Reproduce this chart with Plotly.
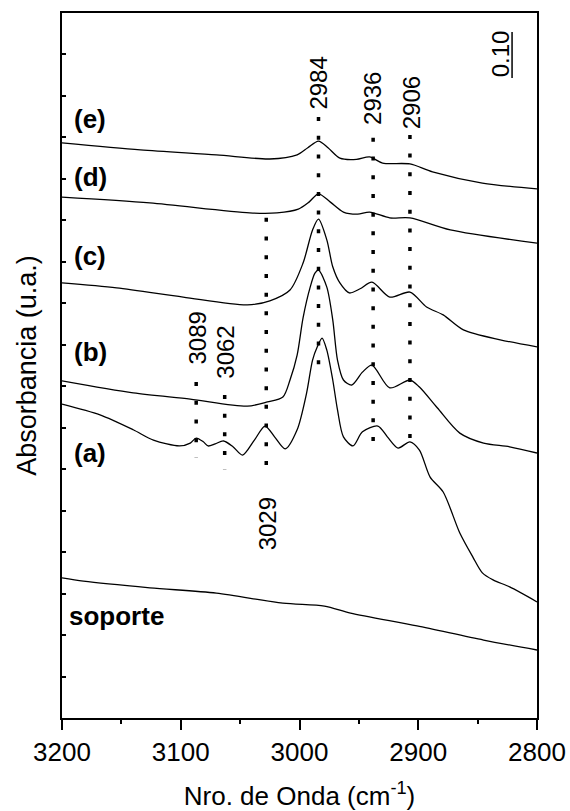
import plotly.graph_objects as go

# --- spectra (wavenumber cm-1, absorbance u.a.) ---
wn_e = [3200, 3134, 3070, 3025, 3002, 2993, 2984, 2976, 2966, 2952, 2941, 2930, 2907, 2888, 2846, 2800]
abs_e = [1.387, 1.370, 1.358, 1.348, 1.358, 1.375, 1.391, 1.375, 1.350, 1.347, 1.353, 1.338, 1.336, 1.317, 1.290, 1.276]

wn_d = [3200, 3126, 3042, 3019, 3001, 2992, 2984, 2974, 2963, 2951, 2941, 2924, 2907, 2873, 2800]
abs_d = [1.256, 1.242, 1.218, 1.218, 1.227, 1.244, 1.264, 1.244, 1.220, 1.215, 1.220, 1.206, 1.206, 1.177, 1.145]

wn_c = [3200, 3154, 3098, 3044, 3025, 3008, 2997, 2989, 2984, 2977, 2972, 2966, 2958, 2949, 2939,
        2924, 2907, 2893, 2879, 2862, 2831, 2800]
abs_c = [1.049, 1.037, 1.015, 0.996, 1.006, 1.032, 1.097, 1.177, 1.203, 1.153, 1.088, 1.049, 1.025, 1.035, 1.051,
         1.015, 1.027, 0.991, 0.972, 0.936, 0.912, 0.895]

wn_b = [3200, 3140, 3092, 3044, 3027, 3014, 3008, 3002, 2997, 2991, 2987, 2984, 2977, 2972, 2968, 2963,
        2956, 2947, 2939, 2924, 2907, 2899, 2884, 2865, 2845, 2823, 2800]
abs_b = [0.813, 0.784, 0.769, 0.752, 0.762, 0.774, 0.815, 0.875, 0.965, 1.039, 1.073, 1.080, 1.039, 0.960, 0.863, 0.815,
         0.803, 0.834, 0.851, 0.796, 0.815, 0.798, 0.748, 0.687, 0.663, 0.654, 0.639]

wn_a = [3200, 3168, 3140, 3123, 3101, 3092, 3087, 3081, 3077, 3071, 3064, 3056, 3048, 3038, 3029, 3021,
        3012, 3002, 2994, 2989, 2985, 2981, 2977, 2972, 2968, 2963, 2955, 2947, 2934, 2926, 2917, 2907,
        2899, 2890, 2879, 2865, 2854, 2846, 2837, 2823, 2800]
abs_a = [0.757, 0.731, 0.695, 0.670, 0.656, 0.663, 0.675, 0.666, 0.656, 0.661, 0.668, 0.654, 0.634, 0.670, 0.704, 0.678,
         0.649, 0.695, 0.784, 0.863, 0.895, 0.916, 0.887, 0.815, 0.743, 0.678, 0.656, 0.690, 0.704, 0.678, 0.651, 0.666,
         0.646, 0.581, 0.545, 0.446, 0.388, 0.350, 0.333, 0.316, 0.280]

wn_sop = [3200, 3182, 3126, 3070, 3014, 2979, 2957, 2901, 2845, 2800]
abs_sop = [0.338, 0.330, 0.314, 0.301, 0.277, 0.270, 0.253, 0.222, 0.188, 0.164]

# curve labels: (text, y position)
curve_labels = ["(e)", "(d)", "(c)", "(b)", "(a)", "soporte"]
curve_label_y = [1.444, 1.305, 1.114, 0.883, 0.639, 0.2455]

# band marks: wavenumber of the dotted line, its span, label position
band_names = ["2984", "2936", "2906", "3029", "3062", "3089"]
band_wn = [2984, 2938, 2907, 3028, 3063, 3087]
band_top = [1.449, 1.399, 1.406, 1.206, 0.779, 0.810]
band_bottom = [0.822, 0.637, 0.646, 0.581, 0.598, 0.629]
band_label_wn = [2984, 2939, 2905, 3027, 3062, 3086]
band_label_y = [1.531, 1.495, 1.483, 0.468, 0.883, 0.916]

font = "Arial, Liberation Sans, sans-serif"

fig = go.Figure()

for wn, ab in [(wn_e, abs_e), (wn_d, abs_d), (wn_c, abs_c), (wn_b, abs_b), (wn_a, abs_a), (wn_sop, abs_sop)]:
    fig.add_trace(go.Scatter(x=wn, y=ab, mode="lines", line=dict(color="black", width=1.3, shape="spline", smoothing=0.8),
                             showlegend=False, hoverinfo="skip"))

# dotted band lines
for i in range(len(band_names)):
    fig.add_trace(go.Scatter(x=[band_wn[i], band_wn[i]], y=[band_top[i], band_bottom[i]], mode="lines",
                             line=dict(color="black", width=3.5, dash="4px,14.7px"),
                             showlegend=False, hoverinfo="skip"))
    fig.add_annotation(x=band_label_wn[i], y=band_label_y[i], text=band_names[i], textangle=-90,
                       showarrow=False, font=dict(family=font, size=24, color="black"))

# curve labels
for txt, yy in zip(curve_labels, curve_label_y):
    fig.add_annotation(x=3192 if txt != "soporte" else 3196, y=yy, text="<b>%s</b>" % txt, xanchor="left",
                       showarrow=False, font=dict(family=font, size=26, color="black"))

# scale bar 0.10
fig.add_annotation(x=2831, y=1.601, text="0.10", textangle=-90, showarrow=False,
                   font=dict(family=font, size=24, color="black"))
fig.add_shape(type="line", x0=2821, x1=2821, y0=1.543, y1=1.654, line=dict(color="black", width=1.5))

fig.update_layout(
    width=570, height=811,
    margin=dict(l=62, r=33, t=13, b=93),
    plot_bgcolor="white", paper_bgcolor="white",
    font=dict(family=font, size=26, color="black"),
)
fig.update_xaxes(
    range=[3200, 2800], dtick=100, ticks="outside", ticklen=10, tickwidth=2, tickcolor="black",
    minor=dict(dtick=50, ticks="outside", ticklen=4, tickwidth=2, tickcolor="black"),
    showline=True, linewidth=2, linecolor="black", mirror=True, showgrid=False, zeroline=False,
    tickfont=dict(size=26), automargin=False,
    title=dict(text="Nro. de Onda (cm<sup>-1</sup>)", font=dict(size=26), standoff=22),
)
fig.update_yaxes(
    range=[0, 1.7], tick0=0, dtick=0.1, ticks="inside", ticklen=4, tickwidth=1.5, tickcolor="black",
    showticklabels=False, showline=True, linewidth=2, linecolor="black", mirror=True, showgrid=False,
    zeroline=False, automargin=False, title=dict(text="Absorbancia (u.a.)", font=dict(size=27), standoff=16),
)

# drop the default 8px body margin so the figure fills the window exactly
fig.write_html("out.html", config={"displayModeBar": False},
               post_script="document.body.style.margin = '0px';")
